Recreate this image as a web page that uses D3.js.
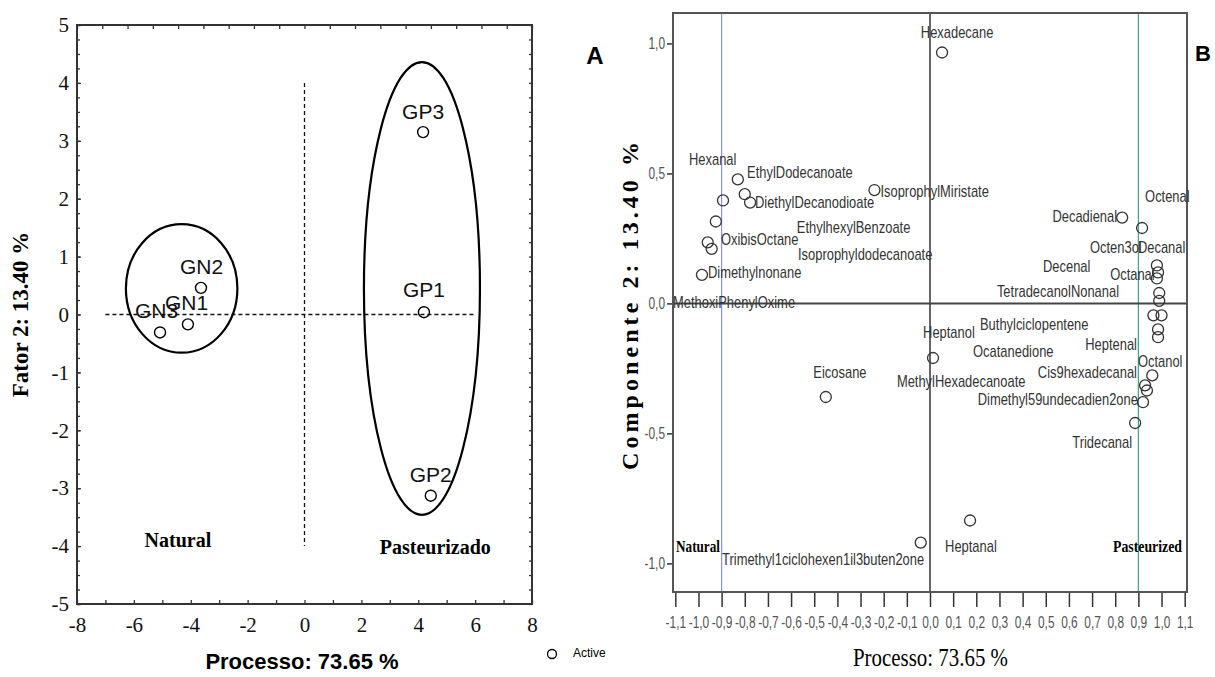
<!DOCTYPE html>
<html>
<head>
<meta charset="utf-8">
<script src="https://cdn.jsdelivr.net/npm/d3@7.9.0/dist/d3.min.js"></script>
<style>
  body { margin: 0; background: #fff; }
  svg { display: block; }
  .serif { font-family: "Liberation Serif", "Times New Roman", serif; }
  .sans { font-family: "Liberation Sans", Arial, sans-serif; }
</style>
</head>
<body>
<div id="chart"></div>
<script>
// ---- panel A: sample scores ----
const samples = [
  { name: 'GN1', x: -4.10, y: -0.17, lx: -4.15, ly: 0.18 },
  { name: 'GN2', x: -3.64, y: 0.46, lx: -3.62, ly: 0.80 },
  { name: 'GN3', x: -5.08, y: -0.31, lx: -5.20, ly: 0.03 },
  { name: 'GP1', x: 4.20, y: 0.04, lx: 4.20, ly: 0.39 },
  { name: 'GP2', x: 4.44, y: -3.13, lx: 4.44, ly: -2.80 },
  { name: 'GP3', x: 4.17, y: 3.15, lx: 4.17, ly: 3.47 }
];
// groups drawn as ellipses (centre and radii in axis units)
const groups = [
  { name: 'Natural', cx: -4.32, cy: 0.45, rx: 1.96, ry: 1.11, tx: -4.45, ty: -3.94 },
  { name: 'Pasteurizado', cx: 4.13, cy: 0.45, rx: 2.04, ry: 3.91, tx: 4.6, ty: -4.05 }
];
const ticksA = d3.range(-8, 9, 2);
const yTicksA = d3.range(-5, 6, 1);

// ---- panel B: variable loadings ----
const loadings = [
  [-0.894, 0.396], [-0.830, 0.477], [-0.800, 0.420], [-0.777, 0.388],
  [-0.925, 0.315], [-0.960, 0.235], [-0.943, 0.210], [-0.985, 0.110],
  [-0.240, 0.436], [0.052, 0.965], [-0.450, -0.360], [0.013, -0.210],
  [-0.040, -0.920], [0.173, -0.835], [0.830, 0.330], [0.916, 0.290],
  [0.980, 0.146], [0.985, 0.119], [0.980, 0.096], [0.990, 0.040],
  [0.990, 0.010], [0.965, -0.046], [1.000, -0.046], [0.985, -0.100],
  [0.985, -0.130], [0.960, -0.277], [0.929, -0.315], [0.937, -0.335],
  [0.920, -0.380], [0.886, -0.460]
];
// variable names: [text, x, y, anchor]
const varLabels = [
  ['Hexanal', -1.041, 0.548, 'start'],
  ['EthylDodecanoate', -0.790, 0.500, 'start'],
  ['DiethylDecanodioate', -0.756, 0.385, 'start'],
  ['IsoprophylMiristate', -0.214, 0.427, 'start'],
  ['EthylhexylBenzoate', -0.575, 0.288, 'start'],
  ['Isoprophyldodecanoate', -0.570, 0.185, 'start'],
  ['OxibisOctane', -0.903, 0.242, 'start'],
  ['Dimethylnonane', -0.959, 0.115, 'start'],
  ['MethoxiPhenylOxime', -1.110, 0.000, 'start'],
  ['Hexadecane', 0.117, 1.040, 'middle'],
  ['Eicosane', -0.389, -0.270, 'middle'],
  ['Heptanol', -0.030, -0.115, 'start'],
  ['Buthylciclopentene', 0.216, -0.085, 'start'],
  ['Ocatanedione', 0.186, -0.188, 'start'],
  ['MethylHexadecanoate', -0.143, -0.304, 'start'],
  ['Heptenal', 0.894, -0.162, 'end'],
  ['Octanol', 0.898, -0.227, 'start'],
  ['Cis9hexadecanal', 0.894, -0.270, 'end'],
  ['Dimethyl59undecadien2one', 0.898, -0.373, 'end'],
  ['Tridecanal', 0.873, -0.538, 'end'],
  ['Heptanal', 0.065, -0.938, 'start'],
  ['Trimethyl1ciclohexen1il3buten2one', -0.898, -0.988, 'start'],
  ['Decadienal', 0.808, 0.330, 'end'],
  ['Octenal', 0.929, 0.408, 'start'],
  ['Octen3ol', 0.691, 0.212, 'start'],
  ['Decanal', 0.898, 0.212, 'start'],
  ['Decenal', 0.488, 0.138, 'start'],
  ['Octanal', 0.778, 0.108, 'start'],
  ['TetradecanolNonanal', 0.289, 0.042, 'start']
];
const ticksB = d3.range(-11, 12).map(i => i / 10);
const yTicksB = [-1, -0.5, 0, 0.5, 1];
const refLines = [{ x: -0.9, color: '#8c8cf0' }, { x: 0.9, color: '#3aa58a' }];

const width = 1215, height = 677;
const svg = d3.select('#chart').append('svg')
  .attr('width', width).attr('height', height);

const hyphen = s => String(s).replace('\u2212', '-');
// no narrow font installed, so squeeze the normal one
function squeeze(sel, f) {
  sel.each(function () {
    const w = this.getComputedTextLength();
    d3.select(this).attr('textLength', w * f).attr('lengthAdjust', 'spacingAndGlyphs');
  });
}

// ================= panel A =================
const A = { left: 77, right: 532, top: 25, bottom: 604 };
const xA = d3.scaleLinear().domain([-8, 8]).range([A.left, A.right]);
const yA = d3.scaleLinear().domain([-5, 5]).range([A.bottom, A.top]);
const gA = svg.append('g');

// minor ticks on left and right, every 0.25
const minor = d3.range(-5, 5.001, 0.25);
gA.append('g').attr('transform', `translate(${A.left},0)`)
  .call(d3.axisLeft(yA).tickValues(minor).tickFormat('').tickSize(-3).tickSizeOuter(0))
  .call(g => g.select('.domain').remove());
gA.append('g').attr('transform', `translate(${A.right},0)`)
  .call(d3.axisRight(yA).tickValues(minor).tickFormat('').tickSize(-3).tickSizeOuter(0))
  .call(g => g.select('.domain').remove());
// top ticks come from the plotting package at a different spacing
const topScale = d3.scaleLinear().domain([0, 18]).range([A.left, A.right]);
gA.append('g').attr('transform', `translate(0,${A.top})`)
  .call(d3.axisTop(topScale).ticks(18).tickFormat('').tickSize(-4).tickSizeOuter(0))
  .call(g => g.select('.domain').remove());

// labelled axes
const yAxA = gA.append('g').attr('transform', `translate(${A.left},0)`)
  .call(d3.axisLeft(yA).tickValues(yTicksA).tickSize(-4).tickPadding(8).tickFormat(d => hyphen(d)));
yAxA.select('.domain').remove();
yAxA.selectAll('text').attr('class', 'serif').attr('font-size', 21).attr('fill', '#111').attr('font-family', null);
const xAxA = gA.append('g').attr('transform', `translate(0,${A.bottom})`)
  .call(d3.axisBottom(xA).tickValues(d3.range(-8, 9, 1)).tickSize(-4).tickPadding(13)
    .tickFormat(d => ticksA.includes(d) ? hyphen(d) : ''));
xAxA.select('.domain').remove();
xAxA.selectAll('text').attr('class', 'serif').attr('font-size', 21).attr('fill', '#111').attr('font-family', null);
gA.selectAll('.tick line').attr('stroke', '#333').attr('stroke-width', 1.3);

gA.append('rect')
  .attr('x', A.left).attr('y', A.top)
  .attr('width', A.right - A.left).attr('height', A.bottom - A.top)
  .attr('fill', 'none').attr('stroke', '#333').attr('stroke-width', 2);

// dashed reference lines
gA.append('line')
  .attr('x1', xA(-7)).attr('x2', xA(6)).attr('y1', yA(0)).attr('y2', yA(0))
  .attr('stroke', '#111').attr('stroke-width', 1.3).attr('stroke-dasharray', '4,3');
gA.append('line')
  .attr('x1', xA(0)).attr('x2', xA(0)).attr('y1', yA(4)).attr('y2', yA(-4))
  .attr('stroke', '#111').attr('stroke-width', 1.3).attr('stroke-dasharray', '4,3');

// ellipses
gA.selectAll('ellipse').data(groups).join('ellipse')
  .attr('cx', d => xA(d.cx)).attr('cy', d => yA(d.cy))
  .attr('rx', d => xA(d.cx + d.rx) - xA(d.cx))
  .attr('ry', d => yA(d.cy) - yA(d.cy + d.ry))
  .attr('fill', 'none').attr('stroke', '#000').attr('stroke-width', 2.2);
gA.selectAll('text.grp').data(groups).join('text')
  .attr('class', 'grp serif')
  .attr('x', d => xA(d.tx)).attr('y', d => yA(d.ty))
  .attr('text-anchor', 'middle').attr('dominant-baseline', 'middle')
  .attr('font-size', 20).attr('font-weight', 'bold').text(d => d.name);

gA.selectAll('circle.pt').data(samples).join('circle')
  .attr('class', 'pt')
  .attr('cx', d => xA(d.x)).attr('cy', d => yA(d.y)).attr('r', 5.5)
  .attr('fill', 'none').attr('stroke', '#000').attr('stroke-width', 1.4);
gA.selectAll('text.pl').data(samples).join('text')
  .attr('class', 'pl sans')
  .attr('x', d => xA(d.lx)).attr('y', d => yA(d.ly))
  .attr('text-anchor', 'middle').attr('dominant-baseline', 'middle')
  .attr('font-size', 21).attr('fill', '#111').text(d => d.name);

// axis titles
svg.append('text').attr('class', 'serif')
  .attr('transform', `translate(23,${(A.top + A.bottom) / 2}) rotate(-90)`)
  .attr('text-anchor', 'middle').attr('dominant-baseline', 'middle')
  .attr('font-size', 23).attr('font-weight', 'bold')
  .text('Fator 2: 13.40 %');
svg.append('text').attr('class', 'sans')
  .attr('x', 302).attr('y', 663)
  .attr('text-anchor', 'middle').attr('dominant-baseline', 'middle')
  .attr('font-size', 22).attr('font-weight', 'bold')
  .text('Processo: 73.65 %');

// legend (partly hidden by panel B)
svg.append('circle').attr('cx', 552).attr('cy', 654).attr('r', 4.5)
  .attr('fill', 'none').attr('stroke', '#000').attr('stroke-width', 1.3);
svg.append('text').attr('class', 'sans')
  .attr('x', 573).attr('y', 654).attr('dominant-baseline', 'middle')
  .attr('font-size', 12).text('Active');

// ================= panel B =================
const gB = svg.append('g');
gB.append('rect').attr('x', 606).attr('y', 0).attr('width', width - 606).attr('height', height)
  .attr('fill', '#fff');
svg.append('text').attr('class', 'sans')
  .attr('x', 595).attr('y', 58).attr('text-anchor', 'middle').attr('dominant-baseline', 'middle')
  .attr('font-size', 24).attr('font-weight', 'bold').text('A');

const B = { left: 673, right: 1187, top: 13, bottom: 592 };
const xB = d3.scaleLinear().domain([-1.11, 1.11]).range([B.left, B.right]);
const yB = d3.scaleLinear().domain([-1.11, 1.117]).range([B.bottom, B.top]);
const comma = d => hyphen(d3.format('.1f')(d).replace('.', ','));

const xAxB = gB.append('g').attr('transform', `translate(0,${B.bottom})`)
  .call(d3.axisBottom(xB).tickValues(ticksB).tickSize(15).tickPadding(9).tickFormat(comma));
xAxB.select('.domain').remove();
const yAxB = gB.append('g').attr('transform', `translate(${B.left},0)`)
  .call(d3.axisLeft(yB).tickValues(yTicksB).tickSize(6).tickPadding(2).tickFormat(comma));
yAxB.select('.domain').remove();
gB.selectAll('.tick line').attr('stroke', '#333').attr('stroke-width', 1.5);
gB.selectAll('.tick text').attr('class', 'sans').attr('font-family', null)
  .attr('font-size', 17).attr('fill', '#555')
  .call(squeeze, 0.7);

refLines.forEach(r => {
  gB.append('line').attr('x1', xB(r.x)).attr('x2', xB(r.x))
    .attr('y1', B.top).attr('y2', B.bottom)
    .attr('stroke', r.color).attr('stroke-width', 1.2);
});
gB.append('line').attr('x1', xB(0)).attr('x2', xB(0)).attr('y1', B.top).attr('y2', B.bottom)
  .attr('stroke', '#333').attr('stroke-width', 1.5);
gB.append('line').attr('x1', B.left).attr('x2', B.right).attr('y1', yB(0)).attr('y2', yB(0))
  .attr('stroke', '#444').attr('stroke-width', 2);
gB.append('rect')
  .attr('x', B.left).attr('y', B.top)
  .attr('width', B.right - B.left).attr('height', B.bottom - B.top)
  .attr('fill', 'none').attr('stroke', '#555').attr('stroke-width', 2);

gB.selectAll('circle.ld').data(loadings).join('circle')
  .attr('class', 'ld')
  .attr('cx', d => xB(d[0])).attr('cy', d => yB(d[1])).attr('r', 5.5)
  .attr('fill', 'none').attr('stroke', '#333').attr('stroke-width', 1.3);
gB.selectAll('text.vl').data(varLabels).join('text')
  .attr('class', 'vl sans')
  .attr('x', d => xB(d[1])).attr('y', d => yB(d[2]))
  .attr('text-anchor', d => d[3]).attr('dominant-baseline', 'middle')
  .attr('font-size', 17).attr('fill', '#333').text(d => d[0])
  .call(squeeze, 0.76);

gB.append('text').attr('class', 'serif')
  .attr('x', xB(-1.11) + 3).attr('y', yB(-0.94))
  .attr('dominant-baseline', 'middle').attr('font-size', 17).attr('font-weight', 'bold')
  .attr('textLength', 44).attr('lengthAdjust', 'spacingAndGlyphs').text('Natural');
gB.append('text').attr('class', 'serif')
  .attr('x', 1113).attr('y', yB(-0.94))
  .attr('dominant-baseline', 'middle').attr('font-size', 17).attr('font-weight', 'bold')
  .attr('textLength', 69).attr('lengthAdjust', 'spacingAndGlyphs').text('Pasteurized');

gB.append('text').attr('class', 'serif')
  .attr('transform', `translate(632,306) rotate(-90)`)
  .attr('text-anchor', 'middle').attr('dominant-baseline', 'middle')
  .attr('font-size', 24).attr('font-weight', 'bold')
  .attr('textLength', 328).attr('lengthAdjust', 'spacing')
  .text('Componente 2: 13.40 %');
gB.append('text').attr('class', 'serif')
  .attr('x', 853).attr('y', 660).attr('dominant-baseline', 'middle')
  .attr('font-size', 25)
  .attr('textLength', 155).attr('lengthAdjust', 'spacingAndGlyphs')
  .text('Processo: 73.65 %');
gB.append('text').attr('class', 'sans')
  .attr('x', 1203).attr('y', 55).attr('text-anchor', 'middle').attr('dominant-baseline', 'middle')
  .attr('font-size', 22).attr('font-weight', 'bold').text('B');
</script>
</body>
</html>
